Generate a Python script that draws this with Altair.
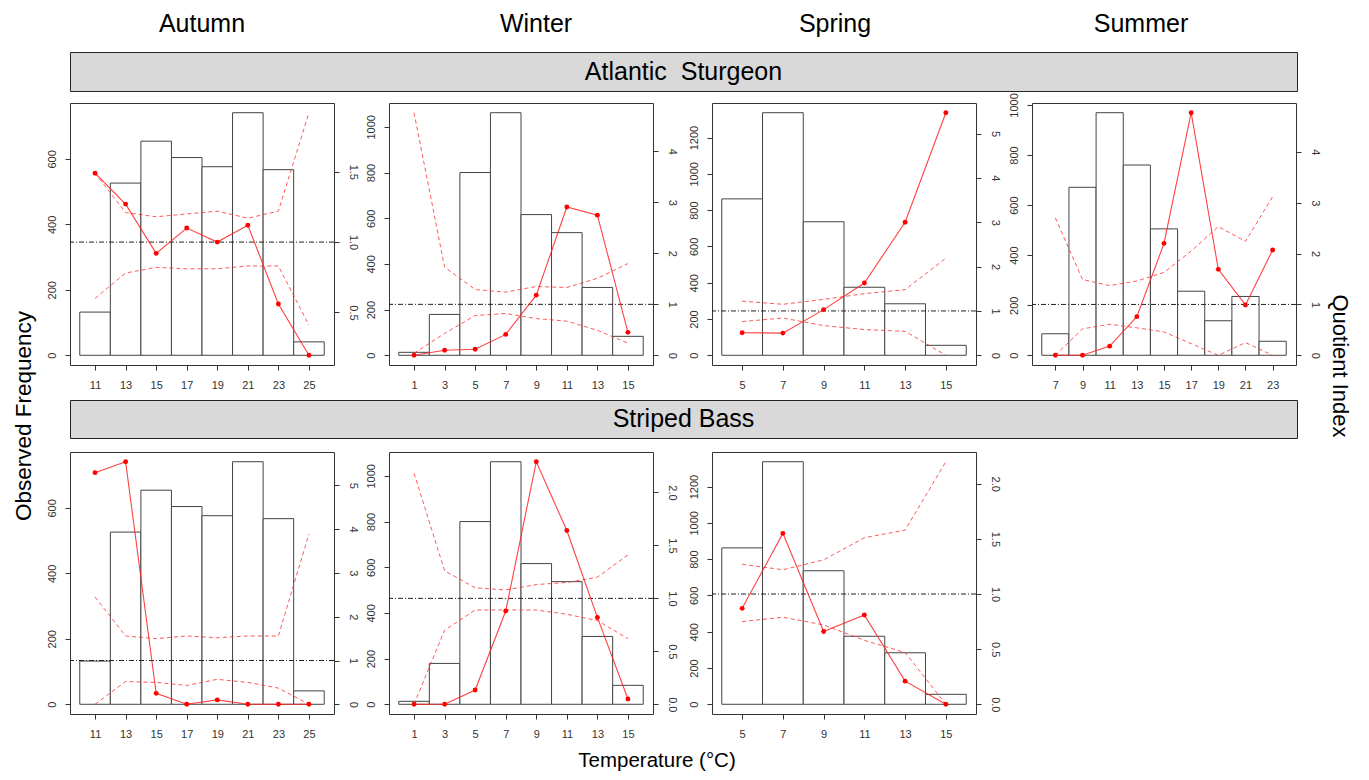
import altair as alt
import pandas as pd

FONT = "Liberation Sans"
AXC = "#333333"

season_names = ["Autumn", "Winter", "Spring", "Summer"]
species_names = ["Atlantic\u00a0 Sturgeon", "Striped Bass"]

# Observed temperature frequency (bars), shared by both species
autumn_temp = [11, 13, 15, 17, 19, 21, 23, 25]
autumn_freq = [132, 526, 654, 604, 576, 741, 567, 41]
winter_temp = [1, 3, 5, 7, 9, 11, 13, 15]
winter_freq = [13, 179, 800, 1062, 616, 537, 297, 83]
spring_temp = [5, 7, 9, 11, 13, 15]
spring_freq = [862, 1337, 736, 375, 284, 55]
summer_temp = [7, 9, 11, 13, 15, 17, 19, 21, 23]
summer_freq = [86, 671, 969, 760, 505, 256, 138, 235, 56]

# Atlantic Sturgeon quotient index with upper / lower bounds
as_autumn_qi = [1.49, 1.27, 0.92, 1.10, 1.00, 1.12, 0.56, 0.195]
as_autumn_hi = [1.49, 1.21, 1.18, 1.20, 1.22, 1.17, 1.22, 1.92]
as_autumn_lo = [0.60, 0.78, 0.82, 0.81, 0.81, 0.83, 0.83, 0.41]

as_winter_qi = [0.00, 0.10, 0.12, 0.41, 1.18, 2.91, 2.75, 0.45]
as_winter_hi = [4.76, 1.73, 1.29, 1.24, 1.35, 1.33, 1.51, 1.80]
as_winter_lo = [0.04, 0.43, 0.78, 0.82, 0.72, 0.67, 0.49, 0.24]

as_spring_qi = [0.51, 0.50, 1.03, 1.63, 3.00, 5.47]
as_spring_hi = [1.22, 1.15, 1.26, 1.39, 1.48, 2.19]
as_spring_lo = [0.76, 0.84, 0.67, 0.58, 0.54, 0.00]

as_summer_qi = [0.00, 0.00, 0.18, 0.76, 2.20, 4.77, 1.69, 0.99, 2.07]
as_summer_hi = [2.70, 1.49, 1.37, 1.46, 1.63, 2.05, 2.53, 2.24, 3.12]
as_summer_lo = [0.00, 0.52, 0.61, 0.54, 0.46, 0.23, 0.00, 0.25, 0.00]

# Striped Bass quotient index with upper / lower bounds
sb_autumn_qi = [5.29, 5.54, 0.25, 0.00, 0.10, 0.00, 0.00, 0.00]
sb_autumn_hi = [2.45, 1.56, 1.50, 1.56, 1.52, 1.56, 1.56, 3.89]
sb_autumn_lo = [0.00, 0.52, 0.50, 0.43, 0.57, 0.50, 0.37, 0.00]

sb_winter_qi = [0.00, 0.00, 0.135, 0.88, 2.29, 1.64, 0.82, 0.05]
sb_winter_hi = [2.18, 1.26, 1.10, 1.08, 1.13, 1.15, 1.20, 1.41]
sb_winter_lo = [0.00, 0.70, 0.89, 0.89, 0.89, 0.85, 0.79, 0.62]

sb_spring_qi = [0.87, 1.55, 0.66, 0.81, 0.21, 0.00]
sb_spring_hi = [1.27, 1.22, 1.31, 1.51, 1.58, 2.20]
sb_spring_lo = [0.75, 0.79, 0.72, 0.58, 0.47, 0.00]

# Axis tick values
ticks_autumn = [0, 200, 400, 600]
ticks_winter = [0, 200, 400, 600, 800, 1000]
ticks_spring = [0, 200, 400, 600, 800, 1000, 1200]
ticks_summer = [0, 200, 400, 600, 800, 1000]
qticks_as_autumn = [0.5, 1.0, 1.5]
qticks_0_4 = [0, 1, 2, 3, 4]
qticks_0_5 = [0, 1, 2, 3, 4, 5]
qticks_0_2 = [0.0, 0.5, 1.0, 1.5, 2.0]

PW, PH = 264, 262
TICK = 5
LPAD = 8
LFS = 11


def rng(vals):
    lo, hi = min(vals), max(vals)
    e = 0.04 * (hi - lo)
    return [lo - e, hi + e]


def make_panel(temp, freq, qi, hi, lo, fticks, qticks, qfmt):
    df = pd.DataFrame({"t": temp, "f": freq, "qi": qi, "hi": hi, "lo": lo})
    df["t0"] = df["t"] - 1
    df["t1"] = df["t"] + 1
    df["z"] = 0
    xs = alt.Scale(domain=rng(list(df["t0"]) + list(df["t1"])), nice=False, zero=False)
    ys = alt.Scale(domain=rng([0] + freq), nice=False, zero=False)
    qs = alt.Scale(domain=rng(qi + hi + lo), nice=False, zero=False)
    xaxis = alt.Axis(values=temp, format="d", title=None, grid=False, domain=False,
                     tickSize=TICK, tickColor=AXC, labelColor=AXC, labelFont=FONT,
                     labelFontSize=LFS, labelPadding=9, labelAngle=0, labelOverlap=False,
                     labelFlush=False)
    laxis = alt.Axis(orient="left", values=fticks, format="d", title=None, grid=False,
                     domain=False, tickSize=TICK, tickColor=AXC, labelColor=AXC,
                     labelFont=FONT, labelFontSize=LFS, labelPadding=LPAD, labelAngle=-90,
                     labelAlign="center", labelBaseline="bottom", labelOverlap=False)
    raxis = alt.Axis(orient="right", values=qticks, format=qfmt, title=None, grid=False,
                     domain=False, tickSize=TICK, tickColor=AXC, labelColor=AXC,
                     labelFont=FONT, labelFontSize=LFS, labelPadding=LPAD, labelAngle=90,
                     labelAlign="center", labelBaseline="bottom", labelOverlap=False)
    bars = alt.Chart(df).mark_rect(fill="white", stroke="#444444", strokeWidth=1).encode(
        x=alt.X("t0:Q", scale=xs, axis=xaxis), x2="t1",
        y=alt.Y("f:Q", scale=ys, axis=laxis), y2="z")
    base = alt.Chart(df).encode(x=alt.X("t:Q", scale=xs, axis=xaxis))
    one = alt.Chart(pd.DataFrame({"one": [1.0]})).mark_rule(
        color="#222222", strokeWidth=1, strokeDash=[5, 2, 1, 2]).encode(
        y=alt.Y("one:Q", scale=qs, axis=raxis))
    upper = base.mark_line(color="#ff3030", strokeWidth=1, strokeDash=[4, 3], opacity=0.8).encode(
        y=alt.Y("hi:Q", scale=qs, axis=raxis))
    lower = base.mark_line(color="#ff3030", strokeWidth=1, strokeDash=[4, 3], opacity=0.8).encode(
        y=alt.Y("lo:Q", scale=qs, axis=raxis))
    line = base.mark_line(color="#ff2020", strokeWidth=1.1, opacity=0.85).encode(
        y=alt.Y("qi:Q", scale=qs, axis=raxis))
    pts = base.mark_circle(color="#ff0000", size=24, opacity=1).encode(
        y=alt.Y("qi:Q", scale=qs, axis=raxis))
    q = alt.layer(one, upper, lower, line, pts)
    return alt.layer(bars, q).resolve_scale(y="independent").properties(
        width=PW, height=PH,
        view=alt.ViewBackground(stroke=AXC, strokeWidth=1, fill="white"))


def make_strip(label, W, H, headers=None):
    df = pd.DataFrame({"label": [label], "v": [0.5]})
    layers = [alt.Chart(df).mark_text(font=FONT, fontSize=25, color="black", baseline="middle").encode(
        x=alt.value(W / 2), y=alt.Y("v:Q", scale=alt.Scale(domain=[0, 1]), axis=None),
        text="label:N")]
    if headers:
        for name, px in headers:
            layers.append(alt.Chart(pd.DataFrame({"s": [name]})).mark_text(
                font=FONT, fontSize=25, color="black", baseline="middle").encode(
                x=alt.value(px), y=alt.value(-28), text="s:N"))
    return alt.layer(*layers).properties(
        width=W, height=H,
        view=alt.ViewBackground(fill="#d9d9d9", stroke="#222222", strokeWidth=1))


header_pos = [132, 466, 765, 1071]

p_as = [
    make_panel(autumn_temp, autumn_freq, as_autumn_qi, as_autumn_hi, as_autumn_lo,
               ticks_autumn, qticks_as_autumn, ".1f"),
    make_panel(winter_temp, winter_freq, as_winter_qi, as_winter_hi, as_winter_lo,
               ticks_winter, qticks_0_4, "d"),
    make_panel(spring_temp, spring_freq, as_spring_qi, as_spring_hi, as_spring_lo,
               ticks_spring, qticks_0_5, "d"),
    make_panel(summer_temp, summer_freq, as_summer_qi, as_summer_hi, as_summer_lo,
               ticks_summer, qticks_0_4, "d"),
]
p_sb = [
    make_panel(autumn_temp, autumn_freq, sb_autumn_qi, sb_autumn_hi, sb_autumn_lo,
               ticks_autumn, qticks_0_5, "d"),
    make_panel(winter_temp, winter_freq, sb_winter_qi, sb_winter_hi, sb_winter_lo,
               ticks_winter, qticks_0_2, ".1f"),
    make_panel(spring_temp, spring_freq, sb_spring_qi, sb_spring_hi, sb_spring_lo,
               ticks_spring, qticks_0_2, ".1f"),
]

GAP_A, GAP_B, GAP_C = 5, 6, 9
row1 = alt.hconcat(alt.hconcat(p_as[0], p_as[1], spacing=GAP_A),
                   alt.hconcat(p_as[2], p_as[3], spacing=GAP_B), spacing=GAP_C)
row2 = alt.hconcat(alt.hconcat(p_sb[0], p_sb[1], spacing=GAP_A), p_sb[2], spacing=GAP_C)
strip1 = make_strip(species_names[0], 1227, 39, list(zip(season_names, header_pos)))
strip2 = make_strip(species_names[1], 1227, 38)

inner = alt.vconcat(
    alt.vconcat(strip1, row1, spacing=0),
    alt.vconcat(strip2, row2, spacing=12),
    spacing=8,
    title=alt.TitleParams("Temperature (°C)", orient="bottom", anchor="middle", font=FONT,
                          fontSize=20.5, fontWeight="normal", color="black", offset=11, dx=-26),
)

left = alt.Chart(pd.DataFrame({"t": ["Observed Frequency"]})).mark_text(
    font=FONT, fontSize=22.5, angle=270, color="black", baseline="middle").encode(
    text="t:N", x=alt.value(16), y=alt.value(364)).properties(
    width=29, height=660, view=alt.ViewBackground(strokeWidth=0, stroke="transparent"))
right = alt.Chart(pd.DataFrame({"t": ["Quotient Index"]})).mark_text(
    font=FONT, fontSize=22, angle=90, color="black", baseline="middle").encode(
    text="t:N", x=alt.value(10), y=alt.value(314)).properties(
    width=22, height=660, view=alt.ViewBackground(strokeWidth=0, stroke="transparent"))

chart = alt.hconcat(left, inner, right, spacing=8).properties(
    padding={"left": 0, "top": 3, "right": 0, "bottom": 0}
).configure(font=FONT).configure_view(strokeWidth=0, stroke="transparent")

chart.save("out.html", embed_options={"renderer": "svg", "actions": False})
